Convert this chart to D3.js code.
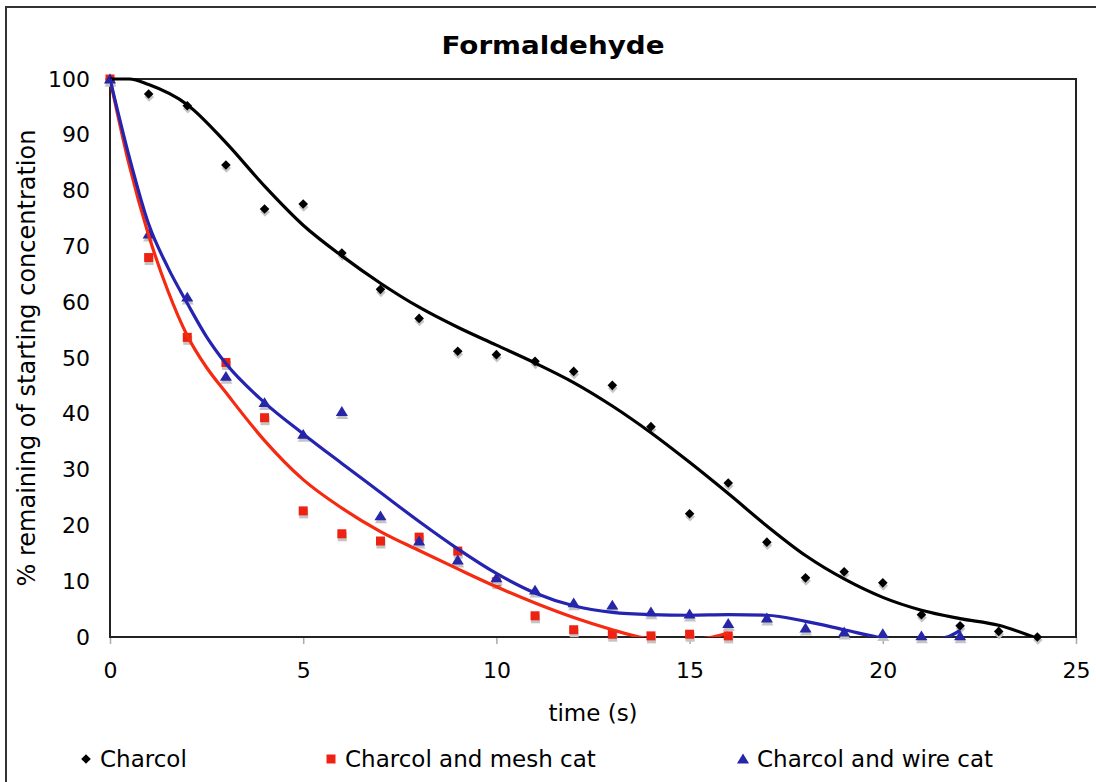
<!DOCTYPE html>
<html>
<head>
<meta charset="utf-8">
<script src="https://cdn.jsdelivr.net/npm/d3@7"></script>
<style>
  body { margin: 0; background: #fff; }
  text { font-family: "DejaVu Sans", Verdana, sans-serif; fill: #000; }
</style>
</head>
<body>
<svg id="chart" width="1096" height="782"></svg>
<script>
// données
const times = [0,1,2,3,4,5,6,7,8,9,10,11,12,13,14,15,16,17,18,19,20,21,22,23,24];
const charcol = [100,97.3,95.2,84.6,76.7,77.6,68.8,62.3,57.1,51.2,50.6,49.4,47.6,45.1,37.7,22.1,27.6,17,10.6,11.7,9.7,4,2,1,0];
const meshTimes = [0,1,2,3,4,5,6,7,8,9,10,11,12,13,14,15,16];
const meshCat = [100,68,53.7,49.2,39.3,22.6,18.5,17.2,17.9,15.4,9.9,3.8,1.3,0.5,0.2,0.5,0.2];
const wireTimes = [0,1,2,3,4,5,6,7,8,9,10,11,12,13,14,15,16,17,18,19,20,21,22];
const wireCat = [100,72.2,60.9,46.7,42,36.3,40.4,21.7,17.2,13.8,10.6,8.4,6.1,5.7,4.5,4.1,2.4,3.4,1.6,0.9,0.6,0.2,0.2];

// courbes de tendance
const charcolTrendT = [0,0.5,1,2,3,4,5,6,7,8,9,10,11,12,13,14,15,16,17,18,19,20,21,22,23,23.9];
const charcolTrend = [100,100,99,95.4,88.6,80.8,73.8,68.3,63.4,59.1,55.5,52.3,49.1,45.6,41.4,36.6,31.3,25.7,19.9,14.6,10.4,7.1,4.8,3.3,2.1,0];
const meshTrendT = [0,0.5,1,1.5,2,2.5,3,4,5,6,7,8,9,10,11,12,13,13.7,14.5,15,15.6,16];
const meshTrend = [100,84.5,72,62,54,48.3,43.8,35.2,28.2,23.1,18.9,15.5,12.2,9,6.1,3.5,1.3,0,-0.6,-0.5,0,0.7];
const wireTrendT = [0,0.5,1,1.5,2,2.5,3,4,5,6,7,8,9,10,11,12,13,14,15,16,17,18,19,19.85,20.7,21.66,22];
const wireTrend = [100,86,74,66.2,59.8,53.8,49,42,36.4,31.1,25.9,20.7,15.8,11.4,7.9,5.6,4.4,4,3.9,4,3.9,2.8,1.3,0,-0.8,0,1.2];

const xTicks = [0,5,10,15,20,25];
const yTicks = [0,10,20,30,40,50,60,70,80,90,100];
const seriesNames = ["Charcol", "Charcol and mesh cat", "Charcol and wire cat"];

const svg = d3.select("#chart");
const width = 1096, height = 782;
const margin = { top: 79, right: 20, bottom: 145, left: 110 };
const plotR = 1076, plotB = 637;

svg.append("rect").attr("width", width).attr("height", height).attr("fill", "#fff");

// cadre extérieur
svg.append("path")
    .attr("d", `M6,${height} L6,7 L${width},7`)
    .attr("fill", "none").attr("stroke", "#333").attr("stroke-width", 2);

const x = d3.scaleLinear().domain([0, 25]).range([margin.left, plotR]);
const y = d3.scaleLinear().domain([0, 100]).range([plotB, margin.top]);

// titre
svg.append("text")
    .attr("x", 553).attr("y", 54)
    .attr("text-anchor", "middle")
    .attr("textLength", 223).attr("lengthAdjust", "spacingAndGlyphs")
    .style("font-size", "25px")
    .style("font-weight", "bold")
    .text("Formaldehyde");

// axes
const xAxis = svg.append("g")
    .attr("transform", `translate(0,${plotB})`)
    .call(d3.axisBottom(x).tickValues(xTicks).tickSize(7).tickPadding(18).tickFormat(d3.format("d")));
xAxis.select(".domain").remove();
xAxis.selectAll("line").attr("stroke", "#aaa").attr("stroke-width", 1.5);
xAxis.selectAll("text").style("font-size", "22px").style("font-family", "DejaVu Sans, Verdana, sans-serif").attr("fill", "#000");

const yAxis = svg.append("g")
    .attr("transform", `translate(${margin.left},0)`)
    .call(d3.axisLeft(y).tickValues(yTicks).tickSize(0).tickPadding(20).tickFormat(d3.format("d")));
yAxis.select(".domain").remove();
yAxis.selectAll("text").style("font-size", "22px").style("font-family", "DejaVu Sans, Verdana, sans-serif").attr("fill", "#000");

// cadre du graphique
svg.append("rect")
    .attr("x", margin.left).attr("y", margin.top)
    .attr("width", plotR - margin.left).attr("height", plotB - margin.top)
    .attr("fill", "none").attr("stroke", "#222").attr("stroke-width", 2);

svg.append("text")
    .attr("x", (margin.left + plotR) / 2).attr("y", 721)
    .attr("text-anchor", "middle")
    .style("font-size", "23px")
    .text("time (s)");

svg.append("text")
    .attr("transform", `translate(35,${(margin.top + plotB) / 2}) rotate(-90)`)
    .attr("text-anchor", "middle")
    .style("font-size", "24px")
    .text("% remaining of starting concentration");

// clip pour les tendances
svg.append("clipPath").attr("id", "plot-clip")
    .append("rect")
    .attr("x", margin.left).attr("y", margin.top - 3)
    .attr("width", plotR - margin.left).attr("height", plotB - margin.top + 3);

const line = d3.line()
    .x(d => x(d[0]))
    .y(d => y(d[1]))
    .curve(d3.curveMonotoneX);

// symboles
const diamond = r => `M0,${-r}L${r},0L0,${r}L${-r},0Z`;
const square = r => `M${-r},${-r}H${r}V${r}H${-r}Z`;
const triangle = r => `M0,${-r}L${r * 1.1},${r * 0.8}L${-r * 1.1},${r * 0.8}Z`;

const series = [
    { t: times, v: charcol, tt: charcolTrendT, tv: charcolTrend, color: "#000", lineColor: "#000", shape: diamond(4.8) },
    { t: meshTimes, v: meshCat, tt: meshTrendT, tv: meshTrend, color: "#ee2213", lineColor: "#f52a10", shape: square(4.5) },
    { t: wireTimes, v: wireCat, tt: wireTrendT, tv: wireTrend, color: "#2626a6", lineColor: "#2424b0", shape: triangle(5.5) }
];

// points (avec ombre grise)
series.forEach(s => {
    const pts = s.t.map((t, i) => [t, s.v[i]]);
    svg.append("g").selectAll("path")
        .data(pts)
        .join("path")
        .attr("d", s.shape)
        .attr("transform", d => `translate(${x(d[0]) + 0.5},${y(d[1]) + 3})`)
        .attr("fill", "#c4c4c4");
    svg.append("g").selectAll("path")
        .data(pts)
        .join("path")
        .attr("d", s.shape)
        .attr("transform", d => `translate(${x(d[0])},${y(d[1])})`)
        .attr("fill", s.color);
});

// tendances
series.forEach(s => {
    svg.append("path")
        .datum(s.tt.map((t, i) => [t, s.tv[i]]))
        .attr("clip-path", "url(#plot-clip)")
        .attr("d", line)
        .attr("fill", "none")
        .attr("stroke", s.lineColor)
        .attr("stroke-width", 3.2);
});

// légende
const legendX = [100, 345, 757];
const legend = svg.append("g");
series.forEach((s, i) => {
    legend.append("path")
        .attr("d", s.shape)
        .attr("transform", `translate(${legendX[i] - 14},759)`)
        .attr("fill", s.color);
    legend.append("text")
        .attr("x", legendX[i]).attr("y", 767)
        .style("font-size", "23px")
        .text(seriesNames[i]);
});
</script>
</body>
</html>
